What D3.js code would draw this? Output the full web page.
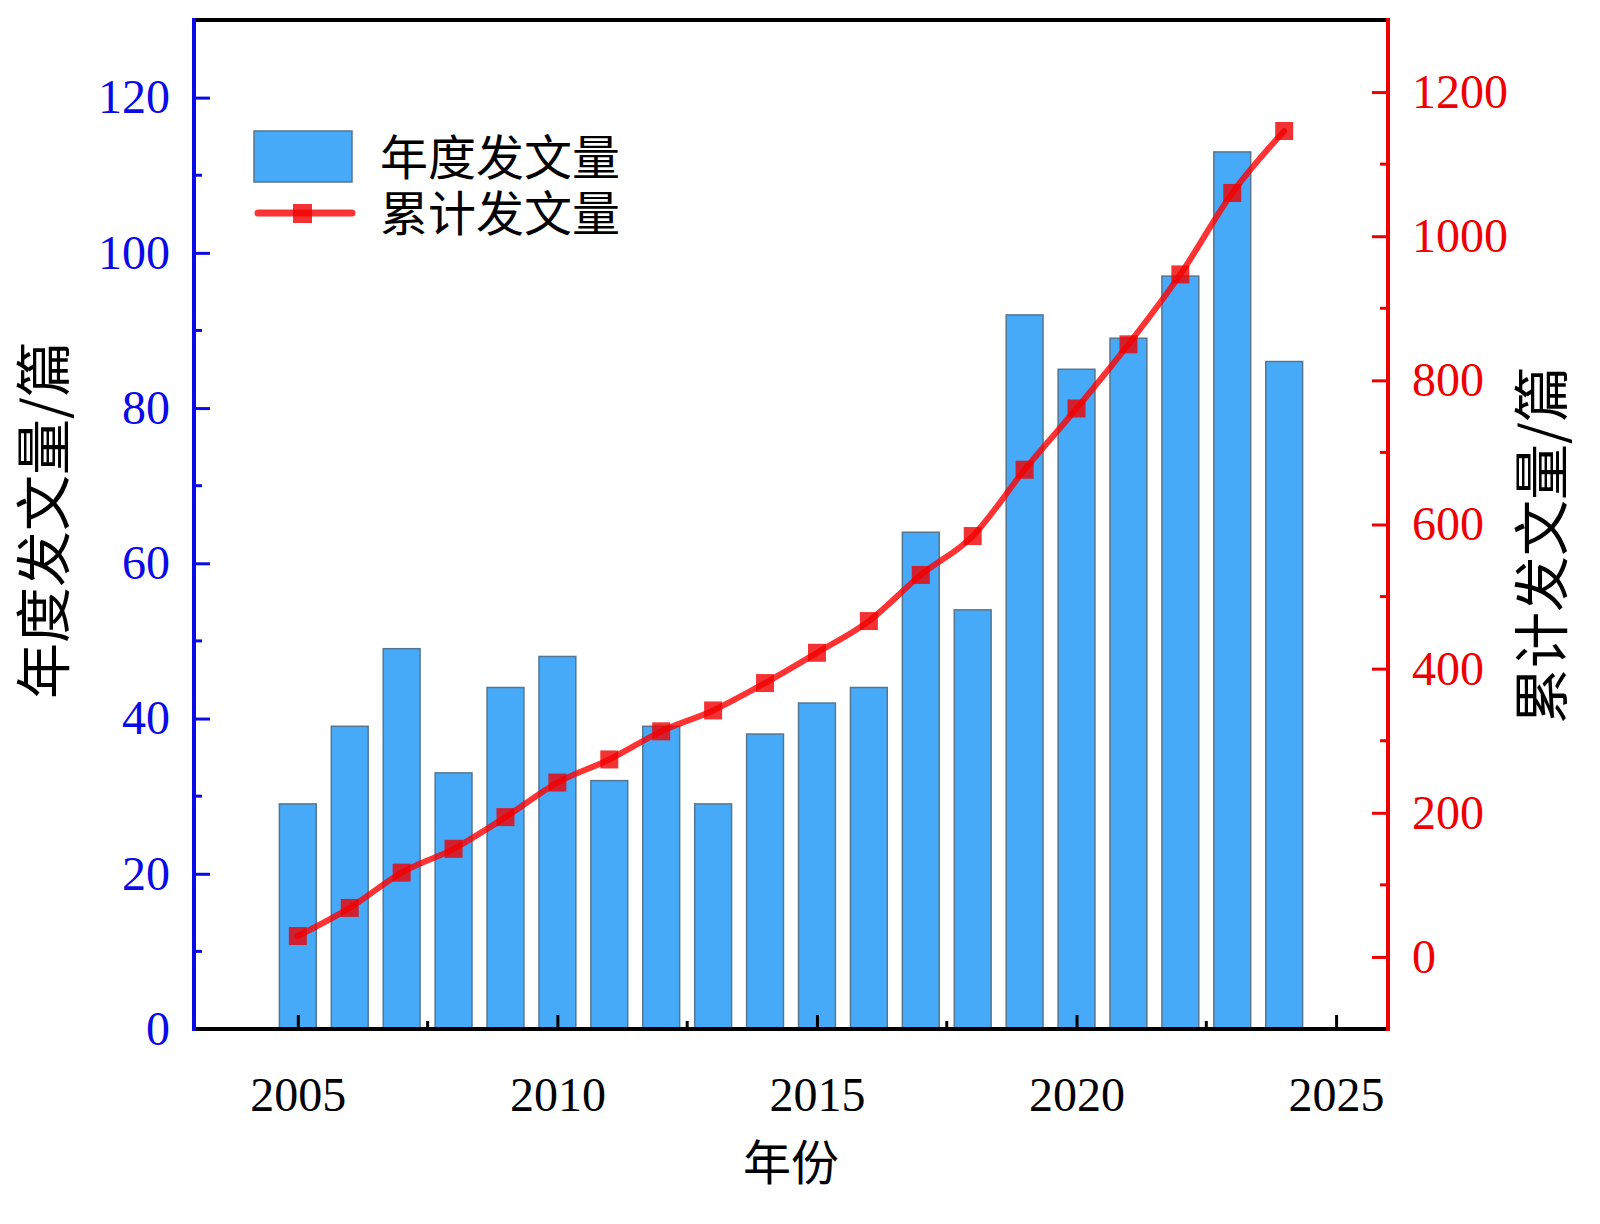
<!DOCTYPE html>
<meta charset="utf-8">
<head>
<title>年度发文量</title>
<script src="https://d3js.org/d3.v7.min.js"></script>
<style>
  body { margin: 0; background: #fff; }
  text { font-family: "Liberation Serif", "Noto Sans CJK SC", serif; }
  .cjk { font-family: "Noto Sans CJK SC", sans-serif; }
</style>
</head>
<body>
<svg id="chart" width="1600" height="1224"></svg>
<script>
// 数据
var years = [2005,2006,2007,2008,2009,2010,2011,2012,2013,2014,2015,2016,2017,2018,2019,2020,2021,2022,2023,2024]
var annual = [29,39,49,33,44,48,32,39,29,38,42,44,64,54,92,85,89,97,113,86]
var cumulative = [29,68,117,150,194,242,274,313,342,380,422,466,530,584,676,761,850,947,1060,1146]
var xTicks = [2005,2010,2015,2020,2025]
var leftTicks = [0,20,40,60,80,100,120]
var rightTicks = [0,200,400,600,800,1000,1200]

var margin = {top: 20, left: 194, right: 212, bottom: 195}
var W = 1600, H = 1224
var iw = W - margin.left - margin.right
var ih = H - margin.top - margin.bottom

var svg = d3.select("#chart")
var g = svg.append("g").attr("transform", `translate(${margin.left},${margin.top})`)

var x = d3.scaleLinear().domain([2003, 2026]).range([0, iw])
var yL = d3.scaleLinear().domain([0, 130]).range([ih, 0])
var yR = d3.scaleLinear().domain([-100, 1300]).range([ih, 0])

var blue = "#0a0ae6", red = "#ee0000"

// 柱子
var bw = x(2005.71) - x(2005)
g.selectAll("rect.bar")
  .data(years)
  .enter()
  .append("rect")
  .attr("class", "bar")
  .attr("x", function(d){ return x(d) - bw/2 })
  .attr("y", function(d,i){ return yL(annual[i]) })
  .attr("width", bw)
  .attr("height", function(d,i){ return ih - yL(annual[i]) })
  .style("fill", "#46aaf8")
  .style("stroke", "#557690")
  .style("stroke-width", 1.5)

// 折线
var pts = years.map(function(d,i){ return [d, cumulative[i]] })
g.append("path")
  .datum(pts)
  .attr("d", d3.line()
    .curve(d3.curveMonotoneX)
    .x(function(d){ return x(d[0]) })
    .y(function(d){ return yR(d[1]) }))
  .style("fill", "none")
  .style("stroke", "rgba(255,0,0,0.8)")
  .style("stroke-width", 6)
  .style("stroke-linecap", "round")

var ms = 18
g.selectAll("rect.mk")
  .data(pts)
  .enter()
  .append("rect")
  .attr("class", "mk")
  .attr("x", function(d){ return x(d[0]) - ms/2 })
  .attr("y", function(d){ return yR(d[1]) - ms/2 })
  .attr("width", ms)
  .attr("height", ms)
  .style("fill", "rgba(240,0,0,0.8)")

// 坐标轴
var bottom = g.append("g").attr("transform", `translate(0,${ih})`)
  .call(d3.axisBottom(x).tickValues(xTicks).tickFormat(d3.format("d")).tickSizeInner(-14).tickSizeOuter(0).tickPadding(48))
bottom.selectAll("line").style("stroke", "#000").style("stroke-width", 3)
bottom.selectAll("text").style("font-size", "48px").style("fill", "#000")
bottom.select(".domain").remove()
bottom.selectAll(".minor")
  .data([2007.5,2012.5,2017.5,2022.5])
  .enter().append("line").attr("class","minor")
  .attr("x1", function(d){ return x(d) }).attr("x2", function(d){ return x(d) })
  .attr("y1", 0).attr("y2", -8)
  .style("stroke", "#000").style("stroke-width", 3)

var left = g.append("g")
  .call(d3.axisLeft(yL).tickValues(leftTicks).tickSizeInner(-16).tickSizeOuter(0).tickPadding(24))
left.selectAll("line").style("stroke", blue).style("stroke-width", 3)
left.selectAll("text").style("font-size", "48px").style("fill", blue)
left.select(".domain").remove()
left.selectAll(".minor")
  .data([10,30,50,70,90,110])
  .enter().append("line").attr("class","minor")
  .attr("y1", function(d){ return yL(d) }).attr("y2", function(d){ return yL(d) })
  .attr("x1", 0).attr("x2", 8)
  .style("stroke", blue).style("stroke-width", 3)

var right = g.append("g").attr("transform", `translate(${iw},0)`)
  .call(d3.axisRight(yR).tickValues(rightTicks).tickFormat(d3.format("d")).tickSizeInner(-16).tickSizeOuter(0).tickPadding(24))
right.selectAll("line").style("stroke", red).style("stroke-width", 3)
right.selectAll("text").style("font-size", "48px").style("fill", red)
right.select(".domain").remove()
right.selectAll(".minor")
  .data([-100,100,300,500,700,900,1100])
  .enter().append("line").attr("class","minor")
  .attr("y1", function(d){ return yR(d) }).attr("y2", function(d){ return yR(d) })
  .attr("x1", 0).attr("x2", -8)
  .style("stroke", red).style("stroke-width", 3)

// 边框
g.append("line").attr("x1",0).attr("x2",iw).attr("y1",0).attr("y2",0).style("stroke","#000").style("stroke-width",4)
g.append("line").attr("x1",0).attr("x2",iw).attr("y1",ih).attr("y2",ih).style("stroke","#000").style("stroke-width",4)
g.append("line").attr("x1",0).attr("x2",0).attr("y1",-2).attr("y2",ih+2).style("stroke",blue).style("stroke-width",4)
g.append("line").attr("x1",iw).attr("x2",iw).attr("y1",-2).attr("y2",ih+2).style("stroke",red).style("stroke-width",4)

// 轴标题
svg.append("text").attr("class","cjk")
  .attr("x", margin.left + iw/2).attr("y", 1180)
  .attr("text-anchor","middle")
  .style("font-size","48px")
  .text("年份")
svg.append("text").attr("class","cjk")
  .attr("transform", "translate(64,520) rotate(-90)")
  .attr("text-anchor","middle")
  .style("font-size","56px")
  .text("年度发文量/篇")
svg.append("text").attr("class","cjk")
  .attr("transform", "translate(1562,545) rotate(-90)")
  .attr("text-anchor","middle")
  .style("font-size","56px")
  .text("累计发文量/篇")

// 图例
var lg = svg.append("g")
lg.append("rect").attr("x",254).attr("y",131).attr("width",98).attr("height",51)
  .style("fill","#46aaf8").style("stroke","#557690").style("stroke-width",1.5)
lg.append("line").attr("x1",258).attr("x2",352).attr("y1",213).attr("y2",213)
  .style("stroke","rgba(255,0,0,0.8)").style("stroke-width",7).style("stroke-linecap","round")
lg.append("rect").attr("x",293).attr("y",204).attr("width",19).attr("height",19)
  .style("fill","rgba(240,0,0,0.8)")
lg.append("text").attr("class","cjk").attr("x",380).attr("y",175).style("font-size","48px").text("年度发文量")
lg.append("text").attr("class","cjk").attr("x",380).attr("y",231).style("font-size","48px").text("累计发文量")
</script>
</body>
